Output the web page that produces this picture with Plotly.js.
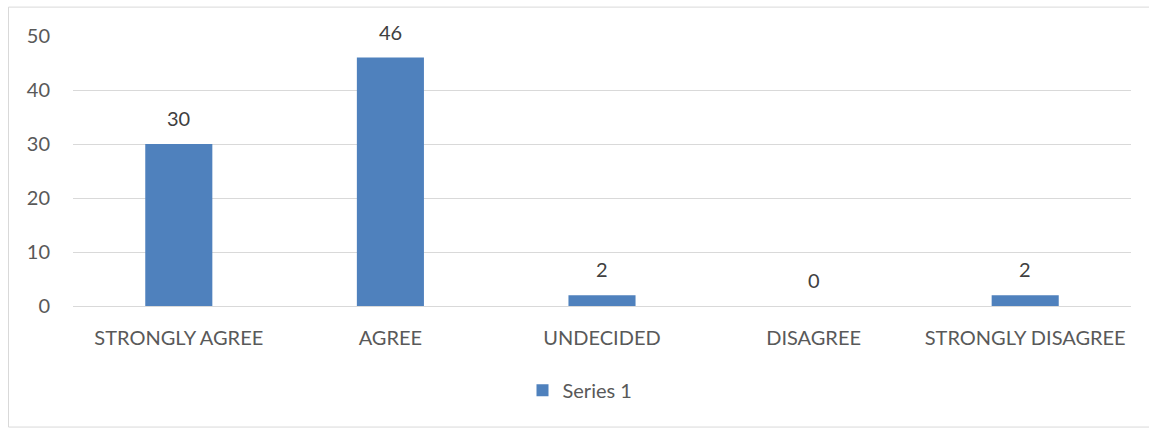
<!DOCTYPE html>
<html>
<head>
<meta charset="utf-8">
<script src="https://cdn.plot.ly/plotly-3.0.1.min.js"></script>
<style>
  html, body { margin: 0; padding: 0; background: #ffffff; }
  #chart { width: 1149px; height: 429px; }
</style>
</head>
<body>
<div id="chart"></div>
<script>
// Survey responses per answer option
const categories = ['STRONGLY AGREE', 'AGREE', 'UNDECIDED', 'DISAGREE', 'STRONGLY DISAGREE'];
const values = [30, 46, 2, 0, 2];
const seriesName = 'Series 1';
const yTicks = [0, 10, 20, 30, 40, 50];

const W = 1149, H = 429;
const margin = { l: 73, r: 18, t: 35.5, b: 122.5 };
const plotW = W - margin.l - margin.r;
const plotH = H - margin.t - margin.b;
const px2x = p => (p - margin.l) / plotW;
const px2y = p => (H - margin.b - p) / plotH;

const barColor = '#4F81BD';
const textColor = '#595959';
const fontFamily = 'Lato, "Open Sans", sans-serif';
const fontSize = 20;

const trace = {
  type: 'bar',
  x: categories,
  y: values,
  name: seriesName,
  marker: { color: barColor },
  showlegend: true,
  hoverinfo: 'x+y'
};

// value labels above each bar
const annotations = categories.map((c, i) => ({
  x: c,
  y: values[i],
  xref: 'x',
  yref: 'y',
  text: String(values[i]),
  showarrow: false,
  yanchor: 'bottom',
  yshift: 12,
  font: { family: fontFamily, size: fontSize, color: '#404040' }
}));

const layout = {
  width: W,
  height: H,
  margin: margin,
  paper_bgcolor: '#ffffff',
  plot_bgcolor: '#ffffff',
  font: { family: fontFamily, size: fontSize, color: textColor },
  bargap: 0.683,
  xaxis: {
    type: 'category',
    showgrid: false,
    showline: true,
    linecolor: '#D9D9D9',
    linewidth: 1,
    ticks: '',
    ticklabelstandoff: 14,
    zeroline: false,
    tickfont: { size: fontSize, color: textColor }
  },
  yaxis: {
    range: [0, 50],
    tickvals: yTicks,
    ticktext: yTicks.map(String),
    showgrid: true,
    gridcolor: '#D9D9D9',
    gridwidth: 1,
    zeroline: false,
    showline: false,
    ticks: '',
    ticklabelstandoff: 22,
    tickfont: { size: fontSize, color: textColor }
  },
  legend: {
    orientation: 'h',
    x: px2x(580),
    xanchor: 'center',
    y: px2y(391),
    yanchor: 'middle',
    font: { size: fontSize, color: textColor },
    itemwidth: 30,
    itemsizing: 'constant'
  },
  annotations: annotations,
  shapes: [{
    type: 'rect',
    xref: 'paper', yref: 'paper',
    x0: px2x(8.5), x1: px2x(1160),
    y0: px2y(428), y1: px2y(6.5),
    line: { color: '#D9D9D9', width: 1 },
    fillcolor: 'rgba(0,0,0,0)',
    layer: 'below'
  }]
};

Plotly.newPlot('chart', [trace], layout, { displayModeBar: false, staticPlot: true });
</script>
</body>
</html>
